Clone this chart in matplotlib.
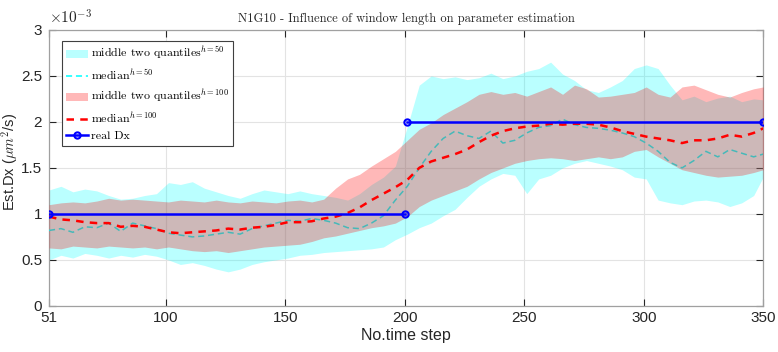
import matplotlib
matplotlib.use("Agg")
import matplotlib.pyplot as plt
from matplotlib.lines import Line2D
from matplotlib.patches import Patch

plt.rcParams['mathtext.fontset'] = 'cm'

# time steps (sampled every 5 steps)
steps = [51, 56, 61, 66, 71, 76, 81, 86, 91, 96, 101, 106, 111, 116, 121, 126, 131, 136, 141, 146,
         151, 156, 161, 166, 171, 176, 181, 186, 191, 196, 201, 206, 211, 216, 221, 226, 231, 236, 241, 246,
         251, 256, 261, 266, 271, 276, 281, 286, 291, 296, 301, 306, 311, 316, 321, 326, 331, 336, 341, 346, 350]

# values in units of 1e-3 um^2/s
q50_hi = [1.26, 1.30, 1.24, 1.27, 1.25, 1.20, 1.16, 1.17, 1.20, 1.22, 1.34, 1.32, 1.35, 1.28, 1.24, 1.20, 1.17, 1.22, 1.26, 1.24,
          1.22, 1.25, 1.22, 1.20, 1.18, 1.15, 1.22, 1.32, 1.40, 1.52, 1.95, 2.40, 2.50, 2.47, 2.49, 2.46, 2.48, 2.53, 2.47, 2.50,
          2.55, 2.58, 2.65, 2.52, 2.45, 2.35, 2.32, 2.38, 2.45, 2.58, 2.62, 2.58, 2.40, 2.24, 2.28, 2.22, 2.26, 2.28, 2.22, 2.25, 2.24]
q50_lo = [0.50, 0.55, 0.52, 0.57, 0.55, 0.52, 0.55, 0.53, 0.56, 0.54, 0.50, 0.45, 0.47, 0.44, 0.40, 0.37, 0.40, 0.45, 0.48, 0.50,
          0.52, 0.55, 0.56, 0.58, 0.59, 0.60, 0.61, 0.62, 0.64, 0.72, 0.78, 0.85, 0.90, 0.98, 1.05, 1.18, 1.30, 1.38, 1.44, 1.42,
          1.22, 1.38, 1.42, 1.50, 1.55, 1.58, 1.55, 1.52, 1.48, 1.40, 1.38, 1.15, 1.12, 1.10, 1.14, 1.15, 1.13, 1.08, 1.12, 1.20, 1.40]
q100_hi = [1.10, 1.12, 1.13, 1.12, 1.14, 1.17, 1.15, 1.16, 1.15, 1.14, 1.13, 1.15, 1.14, 1.13, 1.15, 1.13, 1.12, 1.14, 1.13, 1.12,
           1.14, 1.15, 1.13, 1.16, 1.28, 1.38, 1.43, 1.52, 1.60, 1.68, 1.80, 1.92, 1.99, 2.08, 2.15, 2.22, 2.30, 2.33, 2.30, 2.32,
           2.28, 2.33, 2.38, 2.30, 2.40, 2.36, 2.27, 2.28, 2.30, 2.32, 2.38, 2.30, 2.27, 2.38, 2.40, 2.35, 2.30, 2.27, 2.32, 2.36, 2.38]
q100_lo = [0.63, 0.62, 0.65, 0.64, 0.63, 0.65, 0.64, 0.63, 0.64, 0.62, 0.64, 0.62, 0.60, 0.59, 0.60, 0.58, 0.60, 0.62, 0.64, 0.65,
           0.66, 0.67, 0.70, 0.74, 0.76, 0.79, 0.82, 0.85, 0.87, 0.90, 0.97, 1.08, 1.15, 1.20, 1.25, 1.30, 1.38, 1.45, 1.50, 1.55,
           1.58, 1.60, 1.61, 1.60, 1.58, 1.60, 1.62, 1.60, 1.62, 1.68, 1.70, 1.62, 1.55, 1.48, 1.45, 1.42, 1.40, 1.41, 1.42, 1.45, 1.48]
med50 = [0.82, 0.84, 0.80, 0.86, 0.85, 0.90, 0.81, 0.90, 0.87, 0.84, 0.79, 0.77, 0.75, 0.76, 0.78, 0.80, 0.78, 0.84, 0.87, 0.90,
         0.93, 0.92, 0.95, 0.93, 0.90, 0.85, 0.84, 0.90, 0.98, 1.15, 1.30, 1.50, 1.68, 1.82, 1.90, 1.85, 1.82, 1.90, 1.77, 1.80,
         1.88, 1.94, 1.96, 2.03, 1.97, 1.94, 1.93, 1.91, 1.88, 1.84, 1.77, 1.68, 1.56, 1.50, 1.58, 1.68, 1.62, 1.70, 1.66, 1.62, 1.65]
med100 = [0.97, 0.94, 0.93, 0.91, 0.90, 0.90, 0.86, 0.87, 0.86, 0.83, 0.80, 0.79, 0.80, 0.81, 0.82, 0.84, 0.83, 0.85, 0.86, 0.88,
          0.91, 0.91, 0.92, 0.95, 0.97, 1.01, 1.07, 1.15, 1.22, 1.29, 1.37, 1.50, 1.57, 1.61, 1.65, 1.70, 1.78, 1.85, 1.90, 1.93,
          1.95, 1.96, 1.98, 1.97, 1.98, 1.98, 1.97, 1.94, 1.90, 1.87, 1.84, 1.82, 1.80, 1.77, 1.80, 1.80, 1.82, 1.86, 1.84, 1.88, 1.93]

real_x1 = [51, 200]
real_y1 = [1.0, 1.0]
real_x2 = [201, 350]
real_y2 = [2.0, 2.0]

xticks = [51, 100, 150, 200, 250, 300, 350]
yticks = [0, 0.5, 1, 1.5, 2, 2.5, 3]
ytick_labels = ['0', '0.5', '1', '1.5', '2', '2.5', '3']

sans = ['Liberation Sans', 'DejaVu Sans']

fig = plt.figure(figsize=(7.78, 3.52), dpi=100)
ax = fig.add_axes([0.063, 0.131, 0.918, 0.784])

ax.fill_between(steps, q50_lo, q50_hi, color=(0, 1, 1), alpha=0.27, linewidth=0, zorder=2)
ax.plot(steps, med50, color=(0, 1, 1), linestyle='--', dashes=(4, 2.5), linewidth=1.1, zorder=3)
ax.fill_between(steps, q100_lo, q100_hi, color=(1, 0, 0), alpha=0.28, linewidth=0, zorder=4)
ax.plot(steps, med100, color='red', linestyle='--', dashes=(3, 2.5), linewidth=1.8, zorder=5)
ax.plot(real_x1, real_y1, color='blue', linewidth=1.8, marker='o', markersize=4.5,
        markerfacecolor='none', markeredgewidth=1.5, zorder=6)
ax.plot(real_x2, real_y2, color='blue', linewidth=1.8, marker='o', markersize=4.5,
        markerfacecolor='none', markeredgewidth=1.5, zorder=6)

ax.set_xlim(51, 350)
ax.set_ylim(0, 3)
ax.set_xticks(xticks)
ax.set_yticks(yticks)
ax.set_yticklabels(ytick_labels)
ax.grid(True, color='#e3e3e3', linewidth=0.8, zorder=0)
ax.set_axisbelow(True)
ax.tick_params(direction='in', length=5, width=0.8, top=True, right=True,
               colors='#262626', labelsize=11)
ax.tick_params(axis='x', pad=4)
ax.tick_params(axis='y', pad=5)
for lab in ax.get_xticklabels() + ax.get_yticklabels():
    lab.set_family(sans)
for sp in ax.spines.values():
    sp.set_color('#a0a0a0')
    sp.set_linewidth(0.9)

ax.text(0.0, 1.012, r'$\times10^{-3}$', transform=ax.transAxes, fontsize=11,
        family=sans, color='#262626', ha='left', va='bottom')

ax.set_title('N1G10 - Influence of window length on parameter estimation',
             family='cmr10', fontsize=9, color='#262626', pad=6)
ax.set_xlabel('No.time step', family=sans, fontsize=11.5, color='#262626', labelpad=2)
ax.set_ylabel(r'Est.Dx ($\mu m^2$/s)', family=sans, fontsize=10.5, color='#262626')
ax.yaxis.set_label_coords(-0.040, 0.52)

handles = [
    Patch(facecolor=(0, 1, 1), alpha=0.27, edgecolor='none'),
    Line2D([], [], color=(0, 1, 1), linestyle='--', dashes=(4, 2.5), linewidth=1.1),
    Patch(facecolor=(1, 0, 0), alpha=0.28, edgecolor='none'),
    Line2D([], [], color='red', linestyle='--', dashes=(3, 2.5), linewidth=1.8),
    Line2D([], [], color='blue', linewidth=1.8, marker='o', markersize=4.5,
           markerfacecolor='none', markeredgewidth=1.5),
]
labels = [r'middle two quantiles$^{h=50}$', r'median$^{h=50}$',
          r'middle two quantiles$^{h=100}$', r'median$^{h=100}$', 'real Dx']
leg = ax.legend(handles, labels, loc='upper left', bbox_to_anchor=(0.018, 0.96),
                prop={'family': 'cmr10', 'size': 8.6}, fancybox=False, framealpha=1,
                edgecolor='#404040', handlelength=1.8, handletextpad=0.3,
                borderpad=0.35, labelspacing=0.45, borderaxespad=0)
leg.get_frame().set_linewidth(0.8)
leg.set_zorder(10)

fig.savefig('out.png', dpi=100)
